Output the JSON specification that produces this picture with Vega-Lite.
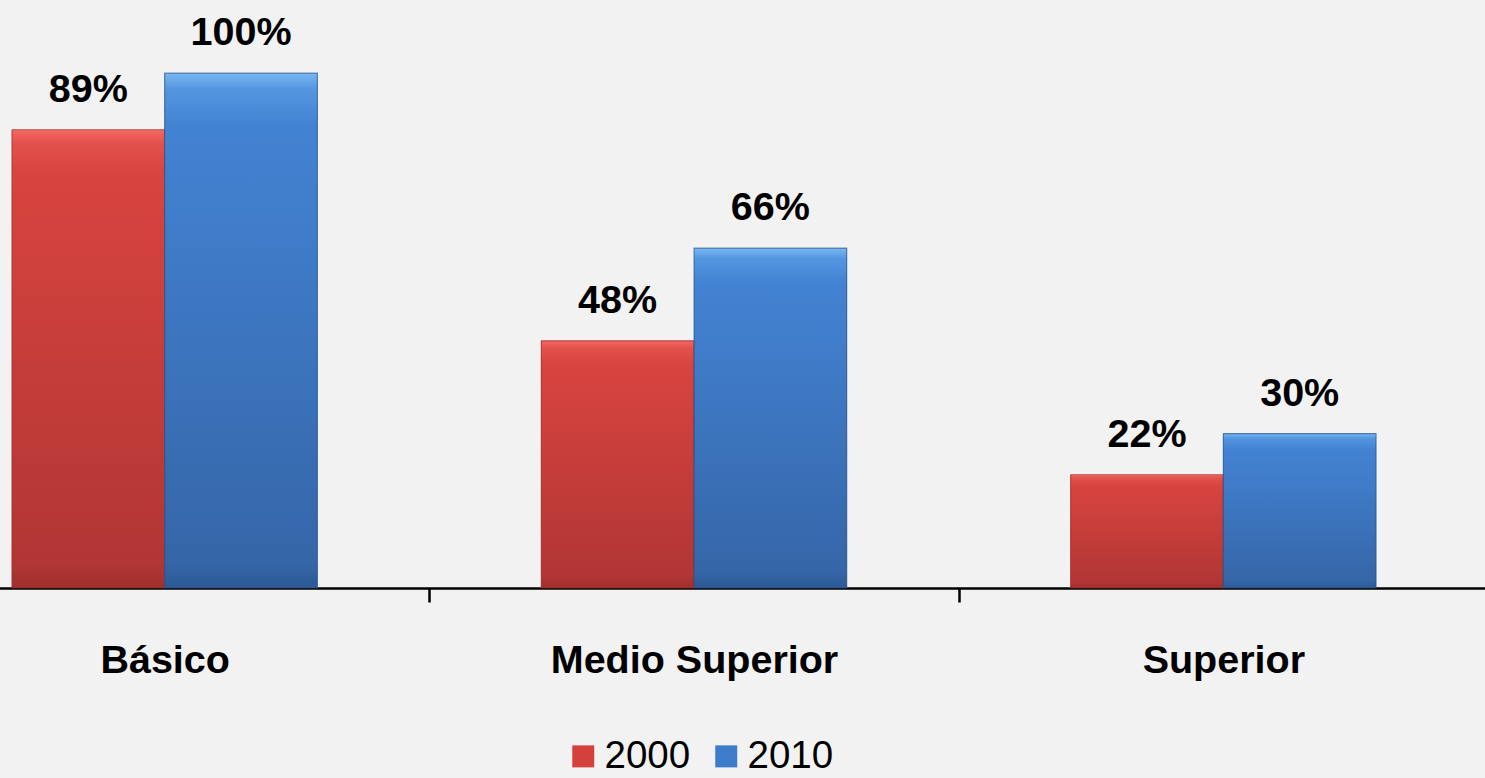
{
  "$schema": "https://vega.github.io/schema/vega-lite/v6.json",
  "width": 1485,
  "height": 588,
  "autosize": {"type": "none"},
  "padding": {"left": 0, "top": 0, "right": 0, "bottom": 190},
  "background": "#f2f2f2",
  "config": {
    "view": {"stroke": null},
    "font": "Liberation Sans"
  },
  "data": {
    "values": [
      {"nivel": "Básico", "year": "2000", "value": 0.89},
      {"nivel": "Básico", "year": "2010", "value": 1.00},
      {"nivel": "Medio Superior", "year": "2000", "value": 0.48},
      {"nivel": "Medio Superior", "year": "2010", "value": 0.66},
      {"nivel": "Superior", "year": "2000", "value": 0.22},
      {"nivel": "Superior", "year": "2010", "value": 0.30}
    ]
  },
  "encoding": {
    "x": {
      "field": "nivel",
      "type": "nominal",
      "sort": ["Básico", "Medio Superior", "Superior"],
      "scale": {"range": [-100, 1488], "paddingInner": 0, "paddingOuter": 0},
      "axis": {
        "title": null,
        "labelAngle": 0,
        "labelFont": "Liberation Sans",
        "labelFontSize": 39.5,
        "labelFontWeight": "bold",
        "labelColor": "#000000",
        "labelBaseline": "alphabetic",
        "labelPadding": 70,
        "labelLimit": 0,
        "tickBand": "extent",
        "tickSize": 14,
        "tickWidth": 2.5,
        "tickColor": "#000000",
        "domainColor": "#000000",
        "domainWidth": 2.5,
        "grid": false
      }
    },
    "xOffset": {
      "field": "year",
      "type": "nominal",
      "scale": {"paddingInner": 0, "paddingOuter": 0.733}
    },
    "y": {
      "field": "value",
      "type": "quantitative",
      "scale": {"domain": [0, 1.142], "nice": false, "zero": true},
      "axis": null
    }
  },
  "layer": [
    {
      "mark": {"type": "bar"},
      "encoding": {
        "color": {
          "field": "year",
          "type": "nominal",
          "scale": {"domain": ["2000", "2010"], "range": ["#d4413d", "#3d7cca"]},
          "legend": {
            "title": null,
            "orient": "none",
            "direction": "horizontal",
            "legendX": 564,
            "legendY": 737,
            "padding": 0,
            "symbolType": "square",
            "symbolSize": 484,
            "symbolStrokeWidth": 0,
            "labelFont": "Liberation Sans",
            "labelFontSize": 38.5,
            "labelColor": "#000000",
            "labelOffset": 2,
            "columnPadding": 16
          }
        }
      }
    },
    {
      "mark": {"type": "bar", "strokeWidth": 1.2, "strokeOpacity": 0.6},
      "encoding": {
        "color": {
          "condition": {
            "test": "datum.year === '2000'",
            "value": {
              "gradient": "linear", "x1": 0, "y1": 0, "x2": 0, "y2": 1,
              "stops": [
                {"offset": 0, "color": "#f46a63"},
                {"offset": 0.03, "color": "#e2514b"},
                {"offset": 0.1, "color": "#d8443f"},
                {"offset": 0.95, "color": "#b13635"},
                {"offset": 1, "color": "#a02f2e"}
              ]
            }
          },
          "value": {
            "gradient": "linear", "x1": 0, "y1": 0, "x2": 0, "y2": 1,
            "stops": [
              {"offset": 0, "color": "#7ab8f2"},
              {"offset": 0.03, "color": "#5596e0"},
              {"offset": 0.1, "color": "#4383d3"},
              {"offset": 0.95, "color": "#3566a8"},
              {"offset": 1, "color": "#2d5a96"}
            ]
          }
        },
        "stroke": {
          "condition": {"test": "datum.year === '2000'", "value": "#9a2d2b"},
          "value": "#274f84"
        }
      }
    },
    {
      "mark": {
        "type": "text",
        "baseline": "alphabetic",
        "align": "center",
        "dy": -28,
        "font": "Liberation Sans",
        "fontSize": 39.5,
        "fontWeight": "bold",
        "color": "#000000"
      },
      "encoding": {
        "text": {"field": "value", "type": "quantitative", "format": ".0%"},
        "color": {"value": "#000000"}
      }
    }
  ]
}
